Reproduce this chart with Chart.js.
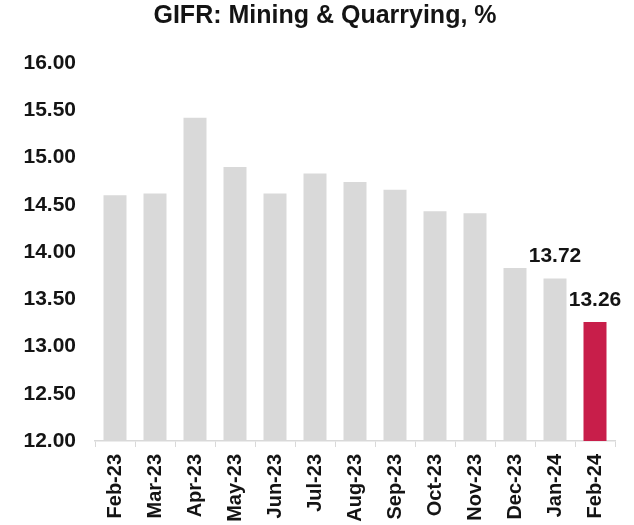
<!DOCTYPE html>
<html>
<head>
<meta charset="utf-8">
<script src="https://cdn.jsdelivr.net/npm/chart.js@4.4.1/dist/chart.umd.min.js"></script>
<style>
  html, body { margin: 0; padding: 0; background: #fff; }
  #wrap { width: 634px; height: 525px; }
</style>
</head>
<body>
<div id="wrap"><canvas id="gifrChart" width="634" height="525"></canvas></div>
<script>
// GIFR mining & quarrying, monthly, %
const months = ['Feb-23', 'Mar-23', 'Apr-23', 'May-23', 'Jun-23', 'Jul-23', 'Aug-23',
                'Sep-23', 'Oct-23', 'Nov-23', 'Dec-23', 'Jan-24', 'Feb-24'];
const gifrValues = [14.60, 14.62, 15.42, 14.90, 14.62, 14.83, 14.74,
                    14.66, 14.43, 14.41, 13.83, 13.72, 13.26];
const labelledMonths = ['Jan-24', 'Feb-24'];
const yTicks = [12, 12.5, 13, 13.5, 14, 14.5, 15, 15.5, 16];

const grey = '#d9d9d9';
const red = '#c81e4a';
const textColor = '#141414';
const fontFamily = '"Liberation Sans", Arial, sans-serif';

const barColors = months.map((m, i) => i === months.length - 1 ? red : grey);

// draws the value above the last two bars
const valueLabels = {
    id: 'valueLabels',
    afterDatasetsDraw(chart) {
        const ctx = chart.ctx;
        const meta = chart.getDatasetMeta(0);
        ctx.save();
        ctx.font = 'bold 21px ' + fontFamily;
        ctx.fillStyle = textColor;
        ctx.textAlign = 'center';
        ctx.textBaseline = 'alphabetic';
        meta.data.forEach((bar, i) => {
            if (labelledMonths.includes(months[i])) {
                ctx.fillText(gifrValues[i].toFixed(2), bar.x, bar.y - 16);
            }
        });
        ctx.restore();
    }
};

const ctx = document.getElementById('gifrChart').getContext('2d');
new Chart(ctx, {
    type: 'bar',
    data: {
        labels: months,
        datasets: [{
            label: 'GIFR',
            data: gifrValues,
            backgroundColor: barColors,
            borderWidth: 0,
            categoryPercentage: 1,
            barPercentage: 0.575
        }]
    },
    options: {
        responsive: false,
        animation: false,
        layout: { padding: { left: 16, right: 0, top: 0, bottom: 0 } },
        plugins: {
            legend: { display: false },
            tooltip: { enabled: false },
            title: {
                display: true,
                text: 'GIFR: Mining & Quarrying, %',
                color: textColor,
                font: { family: fontFamily, size: 25, weight: 'bold', lineHeight: 1.2 },
                padding: { top: 1, bottom: 32 }
            }
        },
        scales: {
            x: {
                grid: {
                    display: true,
                    drawOnChartArea: false,
                    drawTicks: true,
                    tickLength: 6,
                    color: grey,
                    offset: true
                },
                border: { display: true, color: grey, width: 1.5 },
                ticks: {
                    color: textColor,
                    font: { family: fontFamily, size: 20, weight: 'bold' },
                    minRotation: 90,
                    maxRotation: 90,
                    padding: 7,
                    autoSkip: false
                },
                afterFit(scale) { scale.height = 84; }
            },
            y: {
                min: 12,
                max: 16,
                grid: { display: false, drawTicks: false },
                border: { display: false },
                afterBuildTicks(scale) { scale.ticks = yTicks.map(v => ({ value: v })); },
                ticks: {
                    color: textColor,
                    font: { family: fontFamily, size: 21, weight: 'bold' },
                    padding: 19,
                    callback: v => Number(v).toFixed(2)
                },
                afterFit(scale) { scale.width = 79; }
            },
            // empty right-hand spacer so the plot ends where the reference does
            spacer: {
                type: 'linear',
                position: 'right',
                grid: { display: false, drawTicks: false },
                border: { display: false },
                ticks: { display: false },
                afterFit(scale) { scale.width = 19; }
            }
        }
    },
    plugins: [valueLabels]
});
</script>
</body>
</html>
